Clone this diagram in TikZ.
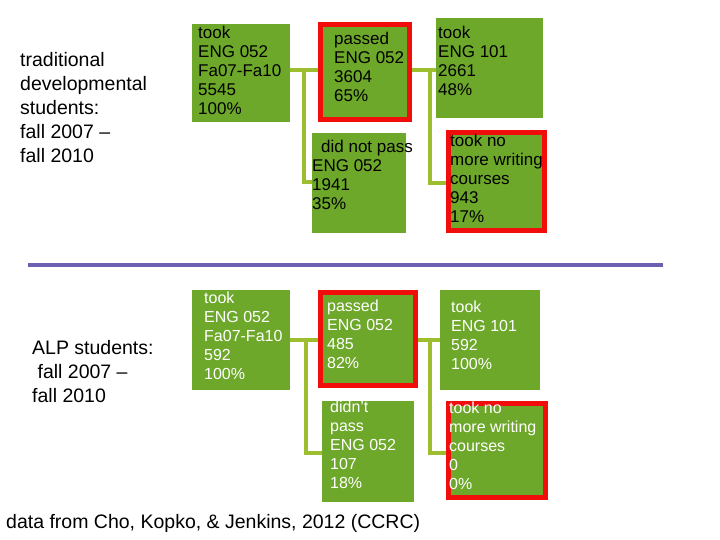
\documentclass[tikz,border=0pt]{standalone}
\usepackage{fontspec}
\setmainfont{Liberation Sans}
\definecolor{gbox}{HTML}{6DA82A}
\definecolor{gline}{HTML}{9DBE2E}
\definecolor{rbox}{HTML}{F20D0D}
\definecolor{bline}{HTML}{6A5FB0}
\begin{document}
\begin{tikzpicture}[x=1pt,y=-1pt,
 box/.style={fill=gbox,minimum width=#1,inner sep=0,outer sep=0,anchor=north west},
 rb/.style={draw=rbox,line width=5pt},
 txt/.style={anchor=north west,align=left,font=\fontsize{17}{19}\selectfont,inner sep=0},
 big/.style={anchor=north west,align=left,font=\fontsize{19.5}{24}\selectfont,inner sep=0},
 wt/.style={txt,text=white},
 conn/.style={draw=gline,line width=4.5pt}]
\useasboundingbox (0,0) rectangle (720,540);
% top boxes
\node[box=98pt,minimum height=98pt] (b1) at (192,24) {};
\node[box=94pt,minimum height=100pt] (b4) at (312,133) {};
\node[box=107pt,minimum height=100pt] (b3) at (436,18) {};
\node[box=101pt,minimum height=103pt] (b5) at (446,130) {};
% connectors top
\draw[conn] (290,70) -- (318,70);
\draw[conn] (304,70) |- (b4.west |- 0,182);
\draw[conn] (412,70) -- (b3.west |- 0,70);
\draw[conn] (430,70) |- (b5.west |- 0,183);
\node[box=94pt,minimum height=100pt] (b2) at (318,22) {};
\draw[rb] (320.5,24.5) rectangle (409.5,119.5);
\draw[rb] (448.5,132.5) rectangle (544.5,230.5);
\node[txt] (t1) at (198,26) {took\\ENG 052\\Fa07-Fa10\\5545\\100\%};
\node[txt] (t2) at (334,32) {passed\\ENG 052\\3604\\65\%};
\node[txt] (t3) at (438,26) {took\\ENG 101\\2661\\48\%};
\node[txt] (t4) at (312,140) {\hspace*{9pt}did not pass\\ENG 052\\1941\\35\%};
\node[txt] (t5) at (450,134) {took no\\more writing\\courses\\943\\17\%};
\node[big] (tl) at (20,52) {traditional\\developmental\\students:\\fall 2007 –\\fall 2010};
% blue line
\draw[bline,line width=4pt] (28,265) -- (663,265);
% bottom
\node[box=98pt,minimum height=100pt] (c1) at (192,290) {};
\node[box=100pt,minimum height=100pt] (c3) at (440,290) {};
\node[box=92pt,minimum height=101pt] (c4) at (322,401) {};
\node[box=102pt,minimum height=99pt] (c5) at (446,401) {};
\draw[conn] (c1.east |- 0,340) -- (320,340);
\draw[conn] (306,340) |- (c4.west |- 0,453);
\draw[conn] (416,340) -- (c3.west |- 0,340);
\draw[conn] (430,340) |- (c5.west |- 0,453);
\node[box=100pt,minimum height=98pt] (c2) at (318,290) {};
\draw[rb] (320.5,292.5) rectangle (415.5,385.5);
\draw[rb] (448.5,403.5) rectangle (545.5,497.5);
\node[wt,font=\fontsize{16}{19}\selectfont] (s1) at (204,292) {took\\ENG 052\\Fa07-Fa10\\592\\100\%};
\node[wt,font=\fontsize{16}{19}\selectfont] (s2) at (327,300) {passed\\ENG 052\\485\\82\%};
\node[wt,font=\fontsize{16}{19}\selectfont] (s3) at (451,301) {took\\ENG 101\\592\\100\%};
\node[wt,font=\fontsize{16}{19}\selectfont] (s4) at (330,401) {didn't\\pass\\ENG 052\\107\\18\%};
\node[wt,font=\fontsize{16}{19}\selectfont] (s5) at (449,402) {took no\\more writing\\courses\\0\\0\%};
\node[big] (bl) at (32,340) {ALP students:\\\ fall 2007 –\\fall 2010};
\node[big,anchor=west] (cap) at (6,523) {data from Cho, Kopko, \& Jenkins, 2012 (CCRC)};
\end{tikzpicture}
\end{document}
